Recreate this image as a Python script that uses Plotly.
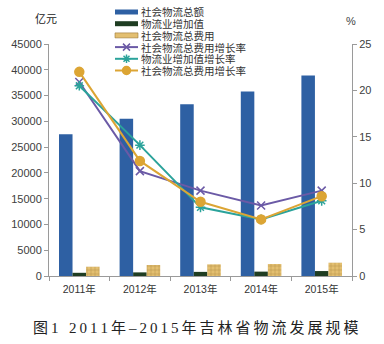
import plotly.graph_objects as go

# ---- data ----
years = ["2011年", "2012年", "2013年", "2014年", "2015年"]
total_logistics = [27500, 30500, 33300, 35800, 38900]      # 社会物流总额 (亿元)
value_added = [620, 700, 800, 850, 960]                    # 物流业增加值 (亿元)
total_cost = [1800, 2130, 2260, 2330, 2580]                # 社会物流总费用 (亿元)
cost_growth_a = [20.9, 11.3, 9.2, 7.6, 9.2]                # 社会物流总费用增长率 (%)
va_growth = [20.5, 14.1, 7.4, 6.1, 8.1]                    # 物流业增加值增长率 (%)
cost_growth_b = [22.0, 12.4, 8.0, 6.1, 8.6]                # 社会物流总费用增长率 (%)

bar_names = ["社会物流总额", "物流业增加值", "社会物流总费用"]
line_names = ["社会物流总费用增长率", "物流业增加值增长率", "社会物流总费用增长率"]
left_ticks = list(range(0, 45001, 5000))
right_ticks = list(range(0, 26, 5))
caption = "图\u20091\u2002\u20092\u20090\u20091\u20091\u2009年\u2009–\u20092\u20090\u20091\u20095\u2009年\u2009吉\u2009林\u2009省\u2009物\u2009流\u2009发\u2009展\u2009规\u2009模"

BLUE = "#2e60a3"
GREEN = "#1f3d22"
TAN = "#e3bf70"
TAN_FG = "#9b7838"
PURPLE = "#6b5aa6"
TEAL = "#2ba39b"
GOLD = "#dca534"

W, H = 384, 344
L, R, T, B = 49, 32, 44, 68
FONT = "Liberation Sans, Arial, Noto Sans CJK SC, sans-serif"
CJK = "Noto Sans CJK SC, sans-serif"


def px(x):
    return (x - L) / (W - L - R)


def py(y):
    return (H - B - y) / (H - T - B)


fig = go.Figure()

fig.add_trace(go.Bar(x=years, y=total_logistics, name=bar_names[0],
                     marker=dict(color=BLUE, line=dict(width=0)), showlegend=False))
fig.add_trace(go.Bar(x=years, y=value_added, name=bar_names[1],
                     marker=dict(color=GREEN, line=dict(width=0)), showlegend=False))
fig.add_trace(go.Bar(x=years, y=total_cost, name=bar_names[2],
                     marker=dict(color=TAN, line=dict(width=0),
                                 pattern=dict(shape="+", fgcolor=TAN_FG, bgcolor=TAN,
                                              size=4, solidity=0.3)),
                     showlegend=False))

line_specs = [
    (cost_growth_a, line_names[0], PURPLE, "x-thin", 8),
    (va_growth, line_names[1], TEAL, "asterisk", 8),
    (cost_growth_b, line_names[2], GOLD, "circle", 9),
]
for vals, nm, col, sym, sz in line_specs:
    fig.add_trace(go.Scatter(x=years, y=vals, name=nm, yaxis="y2", mode="lines+markers",
                             line=dict(color=col, width=2),
                             marker=dict(symbol=sym, size=sz, color=col,
                                         line=dict(color=col, width=1.5)),
                             showlegend=False, cliponaxis=False))

# ---- custom compact legend (paper coordinates converted from pixels) ----
rows = [12, 23.7, 35.4, 47.1, 58.8, 70.5]
sx0, sx1, tx = 115, 138, 139
bar_cols = [BLUE, GREEN, TAN]
shapes = []
annotations = []
for i in range(3):
    y = rows[i]
    shapes.append(dict(type="rect", xref="paper", yref="paper", x0=px(sx0), x1=px(sx1),
                       y0=py(y + 2.5), y1=py(y - 2.5),
                       fillcolor=bar_cols[i], line=dict(width=0 if i < 2 else 0.6, color=TAN_FG)))
for j, (vals, nm, col, sym, sz) in enumerate(line_specs):
    y = rows[3 + j]
    shapes.append(dict(type="line", xref="paper", yref="paper", x0=px(sx0), x1=px(sx1),
                       y0=py(y), y1=py(y), line=dict(color=col, width=2)))
    fig.add_trace(go.Scatter(x=[px((sx0 + sx1) / 2)], y=[py(y)], xaxis="x3", yaxis="y3",
                             mode="markers",
                             marker=dict(symbol=sym, size=sz - 1, color=col,
                                         line=dict(color=col, width=1.5)),
                             showlegend=False, hoverinfo="skip", cliponaxis=False))
all_names = bar_names + line_names
for i, nm in enumerate(all_names):
    annotations.append(dict(xref="paper", yref="paper", x=px(tx), y=py(rows[i]), text=nm,
                            showarrow=False, xanchor="left", yanchor="middle",
                            font=dict(family=CJK, size=10.5, color="#333")))

# unit labels & caption
annotations.append(dict(xref="paper", yref="paper", x=px(46), y=py(18), text="亿元",
                        showarrow=False, xanchor="center", yanchor="middle",
                        font=dict(family=CJK, size=11, color="#222")))
annotations.append(dict(xref="paper", yref="paper", x=px(351), y=py(21), text="%",
                        showarrow=False, xanchor="center", yanchor="middle",
                        font=dict(family=FONT, size=11, color="#444")))
annotations.append(dict(xref="paper", yref="paper", x=px(196), y=py(328), text=caption,
                        showarrow=False, xanchor="center", yanchor="middle",
                        font=dict(family="Liberation Serif, Noto Sans CJK SC, serif", size=15,
                                  color="#222")))

fig.update_layout(
    width=W, height=H,
    margin=dict(l=L, r=R, t=T, b=B, pad=0),
    paper_bgcolor="white", plot_bgcolor="white",
    barmode="group", bargap=0.33, bargroupgap=0,
    showlegend=False,
    font=dict(family=FONT, size=11, color="#404040"),
    xaxis=dict(type="category", showline=True, linecolor="#9a9a9a", linewidth=1,
               ticks="outside", tickson="boundaries", ticklen=4, tickcolor="#9a9a9a",
               ticklabelstandoff=3,
               showgrid=False, zeroline=False,
               tickfont=dict(family=FONT + ", " + CJK, size=10.5, color="#333")),
    yaxis=dict(range=[0, 45000], tickvals=left_ticks, ticktext=[str(v) for v in left_ticks],
               showline=True, linecolor="#9a9a9a", linewidth=1, ticks="outside", ticklen=4,
               tickcolor="#9a9a9a", showgrid=False, zeroline=False,
               tickfont=dict(size=11, color="#404040")),
    yaxis2=dict(range=[0, 25], tickvals=right_ticks, overlaying="y", side="right",
                showline=True, linecolor="#9a9a9a", linewidth=1, ticks="outside", ticklen=4,
                tickcolor="#9a9a9a", showgrid=False, zeroline=False,
                tickfont=dict(size=11, color="#404040")),
    xaxis3=dict(range=[0, 1], overlaying="x", visible=False, fixedrange=True),
    yaxis3=dict(range=[0, 1], overlaying="y", visible=False, fixedrange=True),
    shapes=shapes,
    annotations=annotations,
)

fig.write_html("out.html")
